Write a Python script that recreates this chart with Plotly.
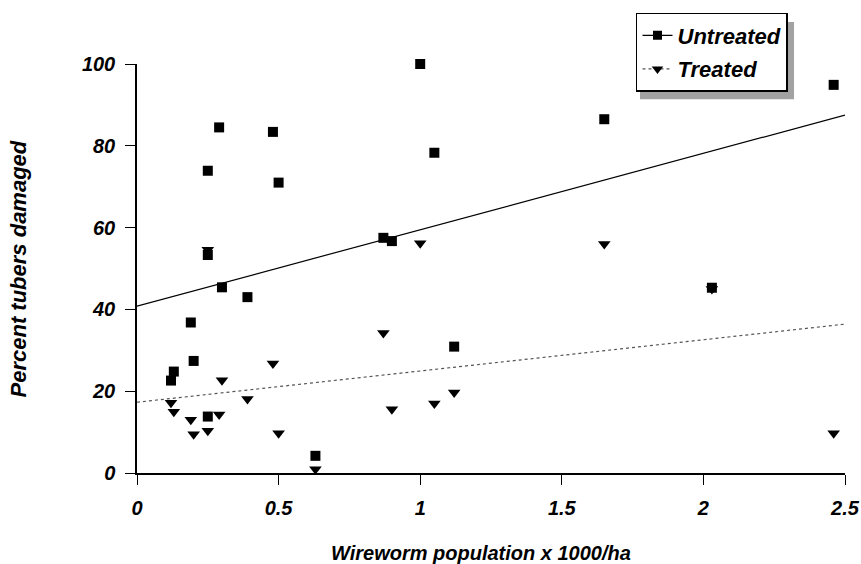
import plotly.graph_objects as go

# Wireworm population (x 1000/ha) for each plot
pop_untreated = [0.12, 0.13, 0.19, 0.20, 0.25, 0.25, 0.25, 0.29, 0.30, 0.39, 0.48,
                 0.50, 0.63, 0.87, 0.90, 1.00, 1.05, 1.12, 1.65, 2.03, 2.46]
dmg_untreated = [22.6, 24.8, 36.8, 27.4, 73.9, 53.3, 13.8, 84.5, 45.4, 43.0, 83.4,
                 71.0, 4.2, 57.5, 56.7, 100.0, 78.3, 30.9, 86.5, 45.3, 94.9]

pop_treated = [0.12, 0.13, 0.19, 0.20, 0.25, 0.25, 0.29, 0.30, 0.39, 0.48,
               0.50, 0.63, 0.87, 0.90, 1.00, 1.05, 1.12, 1.65, 2.03, 2.46]
dmg_treated = [17.2, 15.0, 13.0, 9.5, 10.3, 54.6, 14.3, 22.7, 18.1, 26.8,
               9.7, 0.9, 34.2, 15.6, 56.2, 17.0, 19.7, 56.0, 45.0, 9.7]

# Linear trend lines (endpoints at x = 0 and x = 2.5)
trend_x = [0, 2.5]
trend_untreated = [40.8, 87.5]
trend_treated = [17.3, 36.4]

x_ticks = [0, 0.5, 1, 1.5, 2, 2.5]
x_tick_labels = ["0", "0.5", "1", "1.5", "2", "2.5"]
y_ticks = [0, 20, 40, 60, 80, 100]
y_tick_labels = ["0", "20", "40", "60", "80", "100"]

FONT = "Liberation Sans"


def bi(size):
    return dict(family=FONT, size=size, color="black", weight="bold", style="italic")


fig = go.Figure()

# trend lines
fig.add_trace(go.Scatter(x=trend_x, y=trend_untreated, mode="lines",
                         line=dict(color="black", width=1.2), showlegend=False))
fig.add_trace(go.Scatter(x=trend_x, y=trend_treated, mode="lines",
                         line=dict(color="#555555", width=1.2, dash="dot"), showlegend=False))

# observations
fig.add_trace(go.Scatter(x=pop_treated, y=dmg_treated, mode="markers",
                         marker=dict(symbol="triangle-down", size=11, color="black"),
                         cliponaxis=False, showlegend=False))
fig.add_trace(go.Scatter(x=pop_untreated, y=dmg_untreated, mode="markers",
                         marker=dict(symbol="square", size=10, color="black"),
                         cliponaxis=False, showlegend=False))

# legend entries (line + marker sample)
fig.add_trace(go.Scatter(x=[None], y=[None], mode="lines+markers", name="Untreated",
                         legendgroup="u",
                         line=dict(color="black", width=1.2),
                         marker=dict(symbol="square", size=9, color="black")))
fig.add_trace(go.Scatter(x=[None], y=[None], mode="lines+markers", name="Treated",
                         legendgroup="t",
                         line=dict(color="#555555", width=1.2, dash="dot"),
                         marker=dict(symbol="triangle-down", size=10, color="black")))

# legend drop shadow
fig.add_shape(type="rect", xref="paper", yref="paper",
              x0=0.7105, x1=0.928, y0=0.914, y1=1.1027,
              fillcolor="#a2a2a2", line=dict(width=0), layer="above")

fig.update_layout(
    width=861, height=564,
    margin=dict(l=137, r=16, t=64, b=91, autoexpand=False),
    paper_bgcolor="white", plot_bgcolor="white",
    font=bi(20),
    legend=dict(x=0.7048, y=1.1247, xanchor="left", yanchor="top",
                bgcolor="white", bordercolor="black", borderwidth=1.5,
                font=bi(22), traceorder="grouped", tracegroupgap=2),
    xaxis=dict(range=[0, 2.5], tickvals=x_ticks, ticktext=x_tick_labels,
               showline=True, linecolor="black", linewidth=1.5,
               ticks="outside", ticklen=10, tickwidth=1, tickcolor="black",
               ticklabelstandoff=6, tickfont=bi(20), automargin=False,
               showgrid=False, zeroline=False),
    yaxis=dict(range=[0, 100], tickvals=y_ticks, ticktext=y_tick_labels,
               showline=True, linecolor="black", linewidth=1.5,
               ticks="outside", ticklen=10, tickwidth=1, tickcolor="black",
               ticklabelstandoff=6, tickfont=bi(20), automargin=False,
               showgrid=False, zeroline=False),
    annotations=[
        dict(text="Wireworm population x 1000/ha", xref="paper", yref="paper",
             x=0.486, y=-0.195, xanchor="center", yanchor="middle",
             showarrow=False, font=bi(20)),
        dict(text="Percent tubers damaged", xref="paper", yref="paper",
             x=-0.1667, y=0.5, xanchor="center", yanchor="middle", textangle=-90,
             showarrow=False, font=bi(22)),
    ],
)

fig.write_html("out.html")
